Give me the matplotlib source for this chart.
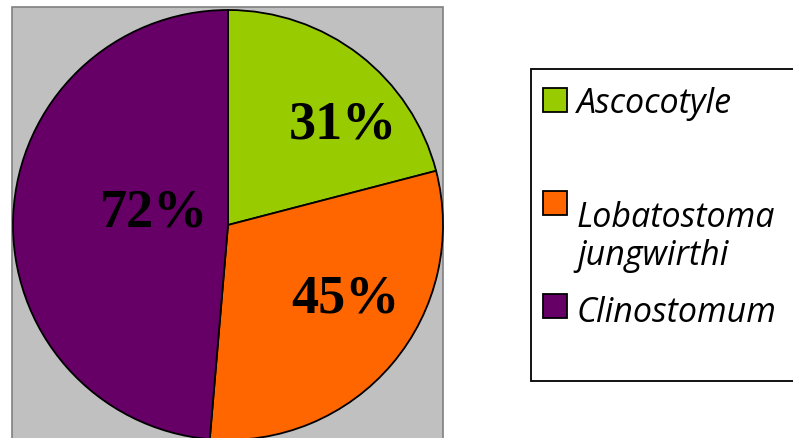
import matplotlib
matplotlib.use("Agg")
import matplotlib.pyplot as plt
from matplotlib.patches import Rectangle
import numpy as np

categories = ["Ascocotyle", "Lobatostoma\njungwirthi", "Clinostomum"]
values = [31, 45, 72]
colors = ["#99CC00", "#FF6600", "#660066"]

W, H = 793, 439
fig = plt.figure(figsize=(W / 100, H / 100), dpi=100)
fig.patch.set_facecolor("white")

# grey plot area
fig.patches.append(Rectangle((12 / W, 0 - 5 / H), (443 - 12) / W, (H - 8 + 5) / H,
                             transform=fig.transFigure, facecolor="#C0C0C0",
                             edgecolor="#808080", linewidth=1.2, zorder=0))

cx, cy, R = 228, 226, 215
ax = fig.add_axes([(cx - R) / W, (H - cy - R) / H, 2 * R / W, 2 * R / H])
ax.set_zorder(1)
ax.axis("off")
ax.patch.set_alpha(0)

wedges, _ = ax.pie(values, colors=colors, startangle=90, counterclock=False,
                   radius=1, wedgeprops=dict(edgecolor="black", linewidth=1.3))
ax.set_xlim(-1, 1)
ax.set_ylim(-1, 1)
ax.set_aspect("equal")
for w in wedges:
    w.set_clip_on(False)

# label placement (angle offset in degrees, radial distance)
label_style = [(-11, 0.71), (8, 0.645), (-7, 0.35)]
for w, v, (dang, dist) in zip(wedges, values, label_style):
    mid = np.deg2rad((w.theta1 + w.theta2) / 2 + dang)
    ax.text(dist * np.cos(mid), dist * np.sin(mid), f"{v}%", ha="center", va="center",
            fontsize=39, fontweight="bold", family="Liberation Serif", color="black")

# legend frame
fig.patches.append(Rectangle((531 / W, 1 - 382 / H), (W + 10 - 531) / W, (382 - 70) / H,
                             transform=fig.transFigure, facecolor="white",
                             edgecolor="black", linewidth=1.3, zorder=0))

square_y = [101, 204, 307]
last_baseline_y = [113, 265, 322]
for w, lab, ys, yb in zip(wedges, categories, square_y, last_baseline_y):
    fig.patches.append(Rectangle((543 / W, 1 - (ys + 12) / H), 24 / W, 24 / H,
                                 transform=fig.transFigure, facecolor=w.get_facecolor(),
                                 edgecolor="black", linewidth=1.3, zorder=2))
    fig.text(577 / W, 1 - yb / H, lab, ha="left", va="baseline", fontsize=24.5,
             family="Open Sans", style="italic", linespacing=1.15, zorder=3)

fig.savefig("out.png", dpi=100)
